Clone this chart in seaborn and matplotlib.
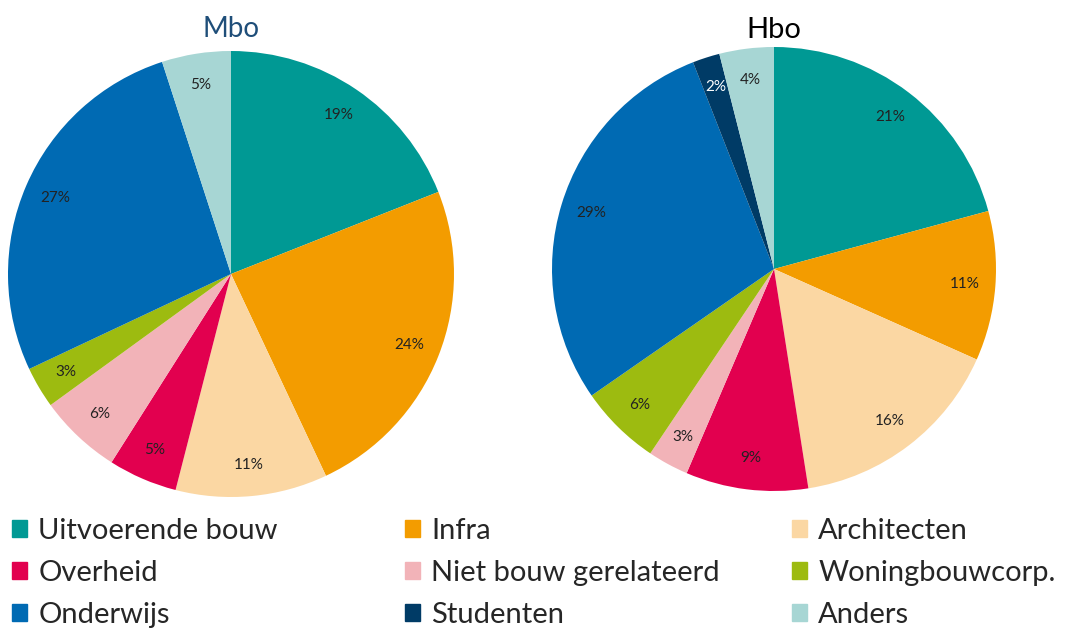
import matplotlib
matplotlib.use("Agg")
import seaborn as sns
from matplotlib import pyplot as plt
from matplotlib.patches import Patch

# Sectors, clockwise from 12 o'clock
categories = ['Uitvoerende bouw', 'Infra', 'Architecten', 'Overheid', 'Niet bouw gerelateerd',
              'Woningbouwcorp.', 'Onderwijs', 'Studenten', 'Anders']
mbo_values = [19, 24, 11, 5, 6, 3, 27, 0, 5]
hbo_values = [21, 11, 16, 9, 3, 6, 29, 2, 4]
colors = ['#009994', '#F39C00', '#FBD7A3', '#E2004F', '#F2B3B8',
          '#9DBB10', '#006AB3', '#003B66', '#A7D6D4']

sns.set_theme(style='white')
plt.rcParams['font.family'] = ['Lato', 'DejaVu Sans']

fig = plt.figure(figsize=(10.67, 6.28), dpi=100)
W, H = 1067, 628


def pie_axes(cx, cy, r):
    return fig.add_axes([(cx - r) / W, (H - cy - r) / H, 2 * r / W, 2 * r / H])


def draw_pie(ax, values, title, title_color, title_y, title_size):
    vals = [v for v in values if v > 0]
    cols = [c for v, c in zip(values, colors) if v > 0]
    wedges, texts = ax.pie(vals, colors=cols, startangle=90, counterclock=False,
                           radius=1, labels=[f'{v}%' for v in vals], labeldistance=0.86,
                           textprops=dict(fontsize=11, color='#222222'),
                           wedgeprops=dict(linewidth=0))
    for t, c in zip(texts, cols):
        t.set_ha('center')
        t.set_va('center')
        if c == '#003B66':
            t.set_color('white')
    ax.set_xlim(-1, 1)
    ax.set_ylim(-1, 1)
    ax.set_aspect('equal')
    ax.text(0, title_y, title, ha='center', va='center', fontsize=title_size, color=title_color)


ax1 = pie_axes(231, 274, 223)
draw_pie(ax1, mbo_values, 'Mbo', '#1F4E79', 1.10, 20)
ax2 = pie_axes(774, 269, 222)
draw_pie(ax2, hbo_values, 'Hbo', 'black', 1.075, 21)

# legend: three columns, items listed row by row in the picture
col_x = [12, 405, 792]
for i, x in enumerate(col_x):
    order = [i, i + 3, i + 6]
    handles = [Patch(color=colors[k], label=categories[k]) for k in order]
    fig.legend(handles=handles, loc='upper left', bbox_to_anchor=(x / W, 1 - 518 / H),
               frameon=False, fontsize=21, handlelength=0.5, handleheight=0.5,
               handletextpad=0.4, labelspacing=0.55, borderaxespad=0, borderpad=0)

plt.savefig('out.png', dpi=100)
